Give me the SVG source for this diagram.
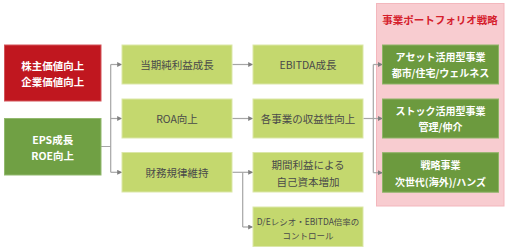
<svg xmlns="http://www.w3.org/2000/svg" width="507" height="250" viewBox="0 0 507 250">
<style>
text{font-family:"Noto Sans CJK JP","Noto Sans",sans-serif;text-anchor:middle;dominant-baseline:central}
.w{fill:#fff;font-weight:bold;font-size:10.5px}
.d{fill:#4a4a4a;font-size:10.5px}
.s{fill:#4a4a4a;font-size:8.5px}
.lg{fill:#c4d86e;stroke:#dbe7a8;stroke-width:1}
.dg{fill:#6c9a3e;stroke:#8fb468;stroke-width:1}
.c{fill:none;stroke:#a6a6a6;stroke-width:1.2}
</style>
<defs>
<marker id="a" markerWidth="5" markerHeight="5" refX="4.5" refY="2.5" orient="auto" markerUnits="userSpaceOnUse">
<path d="M0,0 L5,2.5 L0,5 Z" fill="#7f7f7f"/>
</marker>
</defs>
<rect x="0" y="0" width="507" height="250" fill="#fff"/>
<g id="portfolio-panel">
<rect x="376.5" y="3.5" width="127.5" height="202.5" fill="#f8ccd0" stroke="#f3b7bd" stroke-width="1"/>
<text x="440" y="19" style="fill:#d5202c;font-weight:bold;font-size:10.5px">事業ポートフォリオ戦略</text>
</g>
<g id="connectors">
<path class="c" d="M101,146.5 H110.7 M110.7,64.5 V172.3"/>
<path class="c" d="M110.7,64.5 H121.7" marker-end="url(#a)"/>
<path class="c" d="M110.7,118.5 H121.7" marker-end="url(#a)"/>
<path class="c" d="M110.7,172.3 H121.7" marker-end="url(#a)"/>
<path class="c" d="M232.3,64.5 H252.7" marker-end="url(#a)"/>
<path class="c" d="M232.3,118.5 H252.7" marker-end="url(#a)"/>
<path class="c" d="M232.3,172.3 H252.7" marker-end="url(#a)"/>
<path class="c" d="M242.7,172.3 V227" />
<path class="c" d="M242.7,227 H252.7" marker-end="url(#a)"/>
<path class="c" d="M363.3,118.5 H382.3" marker-end="url(#a)"/>
<path class="c" d="M373.3,64.5 V172.7"/>
<path class="c" d="M373.3,64.5 H382.3" marker-end="url(#a)"/>
<path class="c" d="M373.3,172.7 H382.3" marker-end="url(#a)"/>
</g>
<g id="shareholder-value">
<rect x="4.5" y="45" width="96.5" height="56" fill="#c0171f" stroke="#d3545a" stroke-width="1"/>
<text class="w" x="52.7" y="65">株主価値向上</text>
<text class="w" x="52.7" y="81">企業価値向上</text>
</g>
<g id="eps-roe">
<rect x="4.5" y="118.5" width="96.5" height="56.5" fill="#70a044" stroke="#92b96e" stroke-width="1"/>
<text class="w" x="52.7" y="139">EPS成長</text>
<text class="w" x="52.7" y="155">ROE向上</text>
</g>
<g id="net-income">
<rect class="lg" x="122" y="45" width="110" height="39"/>
<text class="d" x="177" y="64.5">当期純利益成長</text>
</g>
<g id="roa">
<rect class="lg" x="122" y="99" width="110" height="39"/>
<text class="d" x="177" y="118.5">ROA向上</text>
</g>
<g id="financial-discipline">
<rect class="lg" x="122" y="152.5" width="110" height="39.5"/>
<text class="d" x="177" y="172.3">財務規律維持</text>
</g>
<g id="ebitda">
<rect class="lg" x="253" y="45" width="110" height="39"/>
<text class="d" x="308" y="64.5">EBITDA成長</text>
</g>
<g id="profitability">
<rect class="lg" x="253" y="99" width="110" height="39"/>
<text class="d" x="308" y="118.5">各事業の収益性向上</text>
</g>
<g id="equity">
<rect class="lg" x="253" y="152.5" width="110" height="39.5"/>
<text class="d" x="308" y="164.5">期間利益による</text>
<text class="d" x="308" y="181">自己資本増加</text>
</g>
<g id="de-ratio">
<rect class="lg" x="253" y="207" width="110" height="39.5"/>
<text class="s" x="308" y="220.5">D/Eレシオ・EBITDA倍率の</text>
<text class="s" x="308" y="234.5">コントロール</text>
</g>
<g id="asset-business">
<rect class="dg" x="382.5" y="45" width="116" height="39"/>
<text class="w" x="440.5" y="56.5" style="font-size:10px">アセット活用型事業</text>
<text class="w" x="440.5" y="72.5" style="font-size:10px">都市/住宅/ウェルネス</text>
</g>
<g id="stock-business">
<rect class="dg" x="382.5" y="99" width="116" height="39"/>
<text class="w" x="440.5" y="110.5" style="font-size:10px">ストック活用型事業</text>
<text class="w" x="440.5" y="126.5" style="font-size:10px">管理/仲介</text>
</g>
<g id="strategic-business">
<rect class="dg" x="382.5" y="152.7" width="116" height="39.5"/>
<text class="w" x="440.5" y="164.5" style="font-size:10px">戦略事業</text>
<text class="w" x="440.5" y="181" style="font-size:10px">次世代(海外)/ハンズ</text>
</g>
</svg>
